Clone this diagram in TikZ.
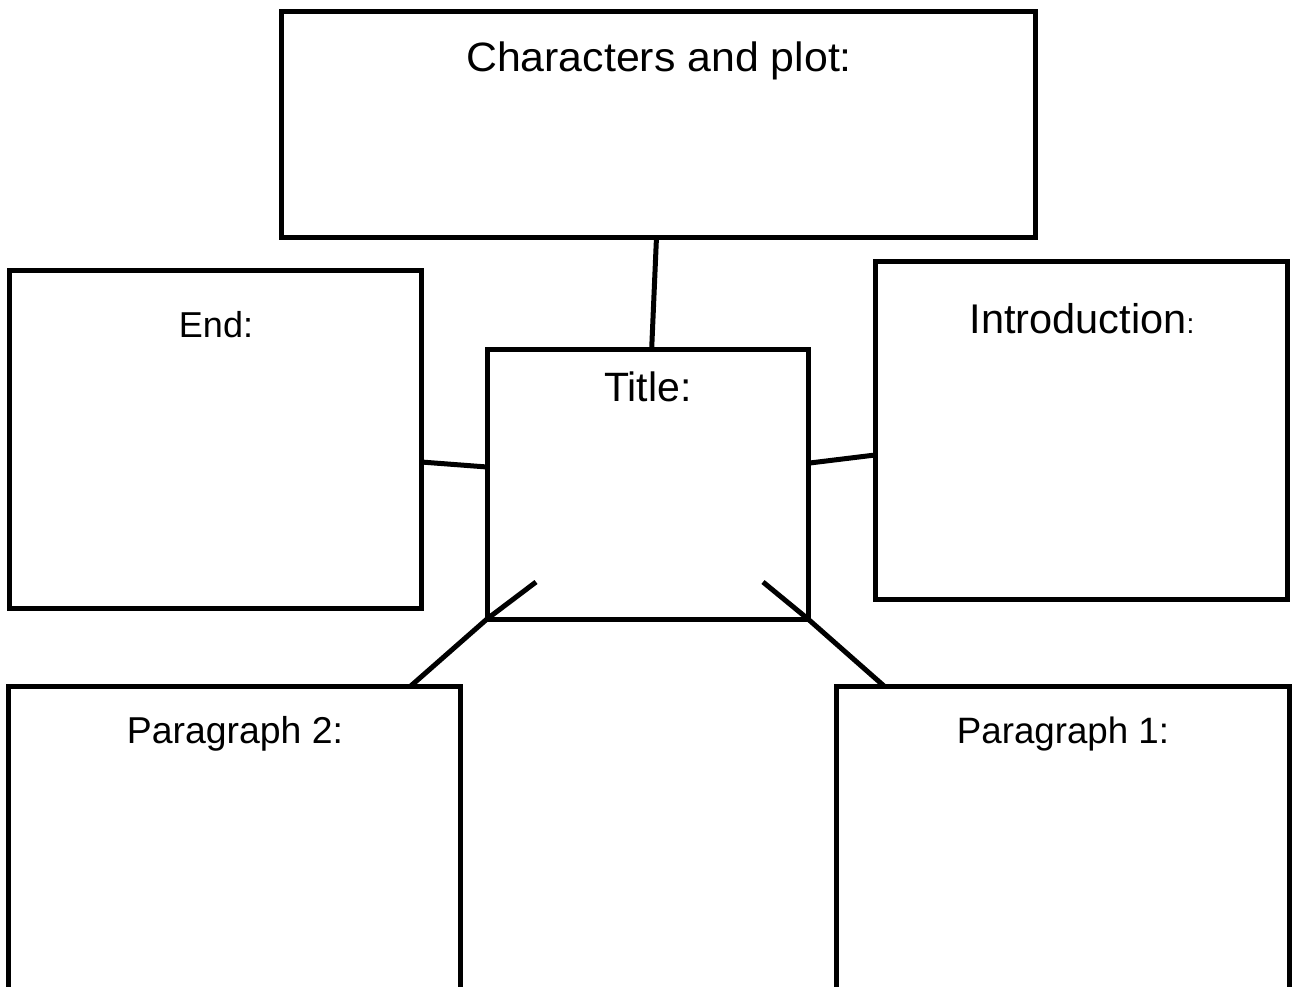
\documentclass[tikz,border=0pt]{standalone}
\usepackage{fontspec}
\setmainfont{Liberation Sans}
\usetikzlibrary{calc}
\tikzset{
  box/.style={draw=black, line width=5pt, rectangle, inner sep=0pt, outer sep=0pt},
  conn/.style={draw=black, line width=5pt},
  lbl/.style={anchor=base, inner sep=0pt, text=black}
}
\newcommand{\fs}[1]{\fontsize{#1}{#1}\selectfont}
\begin{document}
\begin{tikzpicture}[x=1pt, y=-1pt]
\useasboundingbox[clip] (0,0) rectangle (1293,986);
\fill[white] (0,0) rectangle (1293,986);
% boxes
\node[box, minimum width=754pt, minimum height=226pt] (chars) at (658,124) {};
\node[box, minimum width=412pt, minimum height=338pt] (end) at (215,439) {};
\node[box, minimum width=321pt, minimum height=270pt] (title) at (647.5,484) {};
\node[box, minimum width=412pt, minimum height=338pt] (intro) at (1081,430) {};
\node[box, minimum width=452pt, minimum height=310pt] (para2) at (234,841) {};
\node[box, minimum width=453pt, minimum height=310pt] (para1) at (1062.5,841) {};
% labels
\node[lbl, xscale=1.045] (tchars) at (659,71.5) {\fs{41}Characters and plot:};
\node[lbl] (tend) at (216,337) {\fs{36}End:};
\node[lbl] (ttitle) at (648,401) {\fs{41}Title:};
\node[lbl] (tintro) at (1082,333) {\fs{41.5}Introduction{\fs{28}:}};
\node[lbl] (tpara2) at (235,743) {\fs{37.4}Paragraph 2:};
\node[lbl] (tpara1) at (1063,743) {\fs{36.7}Paragraph 1:};
% connector ends
\coordinate (c1) at ($(chars.south west)!0.498!(chars.south east)$);
\coordinate (c2) at ($(title.north west)!0.513!(title.north east)$);
\coordinate (e1) at ($(end.north east)!0.568!(end.south east)$);
\coordinate (e2) at ($(title.north west)!0.437!(title.south west)$);
\coordinate (i1) at ($(title.north east)!0.423!(title.south east)$);
\coordinate (i2) at ($(intro.north west)!0.574!(intro.south west)$);
\coordinate (d1) at (536,582);
\coordinate (p2) at ($(para2.north west)!0.891!(para2.north east)$);
\coordinate (d2) at (763,582);
\coordinate (p1) at ($(para1.north west)!0.106!(para1.north east)$);
% connectors
\draw[conn] (c1) -- (c2);
\draw[conn] (e1) -- (e2);
\draw[conn] (i1) -- (i2);
\draw[conn] (d1) -- (title.south west) -- (p2);
\draw[conn] (d2) -- (title.south east) -- (p1);
\end{tikzpicture}
\end{document}
